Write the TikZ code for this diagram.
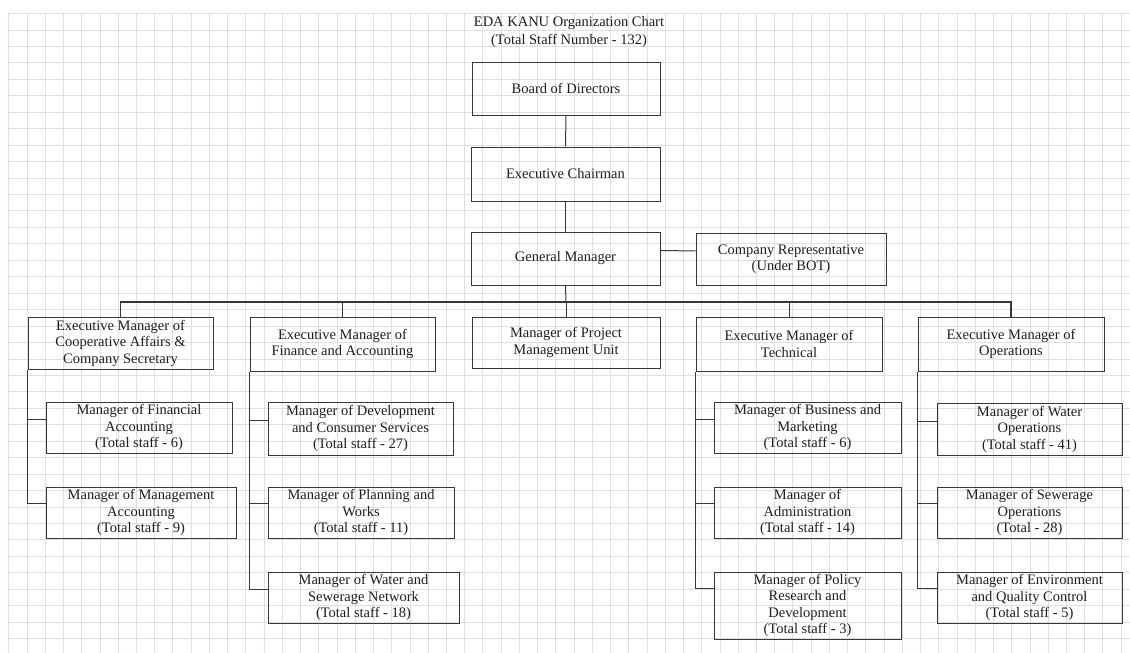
\documentclass[tikz,border=0pt]{standalone}
\usepackage{fontspec}
\setmainfont{Liberation Serif}
\definecolor{gridcol}{RGB}{222,222,232}
\definecolor{linecol}{RGB}{55,55,55}
\definecolor{textcol}{RGB}{30,30,30}
\tikzset{
  gridline/.style={draw=gridcol, line width=0.9pt},
  orgbox/.style={draw=linecol, line width=1pt, inner sep=0pt, align=center,
    text=textcol, font=\fontsize{14.5}{16.5}\selectfont},
  link/.style={draw=linecol, line width=1pt},
  buslink/.style={draw=linecol, line width=1.4pt},
  titletext/.style={text=textcol, align=center, inner sep=0pt,
    font=\fontsize{14.5}{18.5}\selectfont}
}
% box given by its corners: name, x1, y1, x2, y2, text
\newcommand{\unitbox}[6]{%
  \node[orgbox, minimum width={(#4-#2)*1pt}, minimum height={(#5-#3)*1pt}]
    (#1) at ({(#2+#4)/2},{(#3+#5)/2}) {#6};}
\begin{document}
\begin{tikzpicture}[x=1pt,y=-1pt]
\useasboundingbox (0,0) rectangle (1130,653);
\fill[white] (0,0) rectangle (1130,653);

% squared paper
\foreach \i in {0,...,61} {
  \draw[gridline] ({8.8+\i*18.235},13) -- ({8.8+\i*18.235},653);
}
\foreach \j in {0,...,38} {
  \draw[gridline] (8,{13.5+\j*16.45}) -- (1130,{13.5+\j*16.45});
}

% title
\node[titletext] (title) at (569,32) {EDA KANU Organization Chart\\(Total Staff Number - 132)};

% top of the hierarchy
\unitbox{board}{472}{62}{660}{115}{Board of Directors}
\unitbox{chair}{471}{147}{660}{201}{Executive Chairman}
\unitbox{gm}{471}{232}{660}{285}{General Manager}
\unitbox{rep}{696}{233}{886}{285}{Company Representative\\(Under BOT)}

% heads of department
\unitbox{coop}{28}{317}{213}{369}{Executive Manager of\\Cooperative Affairs \&\\Company Secretary}
\unitbox{fin}{250}{317}{435}{371}{Executive Manager of\\Finance and Accounting}
\unitbox{pmu}{472}{317}{660}{368}{Manager of Project\\Management Unit}
\unitbox{tech}{696}{317}{882}{371}{Executive Manager of\\Technical}
\unitbox{ops}{918}{317}{1104}{371}{Executive Manager of\\Operations}

% cooperative affairs
\unitbox{finacc}{46}{402}{232}{453}{Manager of Financial\\Accounting\\(Total staff - 6)}
\unitbox{mgmtacc}{46}{487}{236}{538}{Manager of Management\\Accounting\\(Total staff - 9)}

% finance and accounting
\unitbox{dev}{268}{402}{453}{455}{Manager of Development\\and Consumer Services\\(Total staff - 27)}
\unitbox{plan}{268}{487}{454}{538}{Manager of Planning and\\Works\\(Total staff - 11)}
\unitbox{water}{268}{572}{459}{623}{Manager of Water and\\Sewerage Network\\(Total staff - 18)}

% technical
\unitbox{busi}{714}{402}{901}{453}{Manager of Business and\\Marketing\\(Total staff - 6)}
\unitbox{admin}{714}{487}{901}{538}{Manager of\\Administration\\(Total staff - 14)}
\unitbox{policy}{714}{572}{901}{639}{Manager of Policy\\Research and\\Development\\(Total staff - 3)}

% operations
\unitbox{wops}{937}{403}{1122}{455}{Manager of Water\\Operations\\(Total staff - 41)}
\unitbox{sew}{937}{487}{1122}{538}{Manager of Sewerage\\Operations\\(Total - 28)}
\unitbox{env}{937}{572}{1122}{623}{Manager of Environment\\and Quality Control\\(Total staff - 5)}

% main line of command
\draw[link] (board.south) -- (chair.north);
\draw[link] (chair.south) -- (gm.north);
\draw[link] ([yshift=8pt]gm.east) -- ([yshift=8pt]rep.west);
\coordinate (bus) at (566,302);
\draw[link] (gm.south) -- (bus);
\draw[buslink] (coop.north) |- (bus) -| (ops.north);
\draw[link] (fin.north) -- (fin.north |- bus);
\draw[link] (pmu.north) -- (pmu.north |- bus);
\draw[link] (tech.north) -- (tech.north |- bus);

% departmental branches
\coordinate (finaccc) at ([yshift=8pt]finacc.west);
\coordinate (mgmtaccc) at ([yshift=9pt]mgmtacc.west);
\draw[link] (coop.south west) |- (mgmtaccc);
\draw[link] (finaccc) -- (coop.south west |- finaccc);

\coordinate (devc) at ([yshift=8pt]dev.west);
\coordinate (planc) at ([yshift=9pt]plan.west);
\coordinate (waterc) at ([yshift=8pt]water.west);
\draw[link] (fin.south west) |- (waterc);
\draw[link] (devc) -- (fin.south west |- devc);
\draw[link] (planc) -- (fin.south west |- planc);

\coordinate (busic) at ([yshift=8pt]busi.west);
\coordinate (adminc) at ([yshift=9pt]admin.west);
\coordinate (policyc) at ([yshift=17pt]policy.west);
\draw[link] (tech.south west) |- (policyc);
\draw[link] (busic) -- (tech.south west |- busic);
\draw[link] (adminc) -- (tech.south west |- adminc);

\coordinate (wopsc) at ([yshift=8pt]wops.west);
\coordinate (sewc) at ([yshift=9pt]sew.west);
\coordinate (envc) at ([yshift=9pt]env.west);
\draw[link] (ops.south west) |- (envc);
\draw[link] (wopsc) -- (ops.south west |- wopsc);
\draw[link] (sewc) -- (ops.south west |- sewc);
\end{tikzpicture}
\end{document}
